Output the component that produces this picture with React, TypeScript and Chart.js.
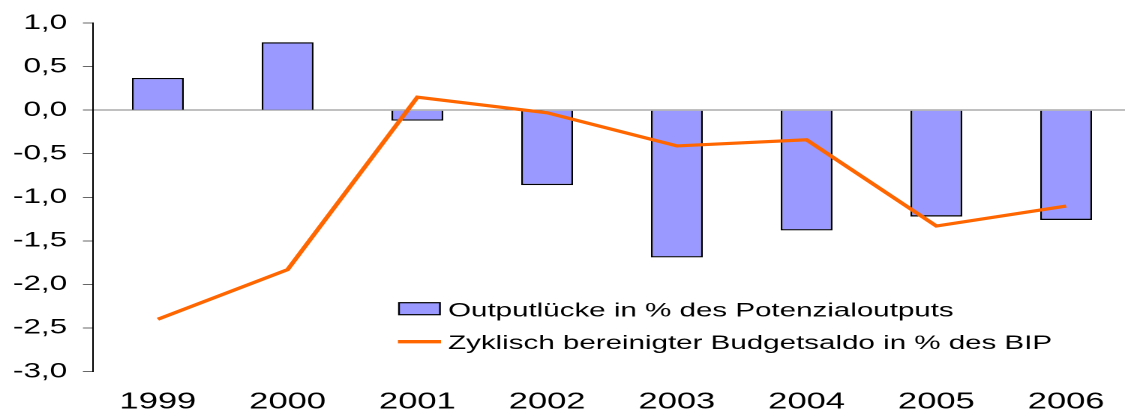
import React, { useEffect, useRef } from "react";
import { Chart, registerables } from "chart.js";

Chart.register(...registerables);

const categories = ["1999", "2000", "2001", "2002", "2003", "2004", "2005", "2006"];
const outputGap = [0.37, 0.78, -0.12, -0.86, -1.69, -1.38, -1.22, -1.26];
const budgetBalance = [-2.4, -1.83, 0.15, -0.03, -0.41, -0.34, -1.33, -1.1];
const barLabel = "Outputlücke in % des Potenzialoutputs";
const lineLabel = "Zyklisch bereinigter Budgetsaldo in % des BIP";
const yMin = -3;
const yMax = 1;
const yStep = 0.5;

const FONT = "'Liberation Sans', Arial, sans-serif";
const BAR_FILL = "#9999FF";
const LINE_COLOR = "#FF6600";

const legendPlugin = {
  id: "customLegend",
  afterDraw(chart: any) {
    const ctx = chart.ctx;
    ctx.save();
    // bar item
    ctx.fillStyle = BAR_FILL;
    ctx.strokeStyle = "#000";
    ctx.lineWidth = 1.2;
    ctx.fillRect(266, 302.7, 27.3, 12);
    ctx.strokeRect(266, 302.7, 27.3, 12);
    // line item
    ctx.strokeStyle = LINE_COLOR;
    ctx.lineWidth = 3.3;
    ctx.beginPath();
    ctx.moveTo(265.3, 341.7);
    ctx.lineTo(294, 341.7);
    ctx.stroke();
    ctx.fillStyle = "#000";
    ctx.font = `19.7px ${FONT}`;
    ctx.textBaseline = "alphabetic";
    ctx.textAlign = "left";
    ctx.fillText(chart.data.datasets[0].label, 298.7, 316.5);
    ctx.fillText(chart.data.datasets[1].label, 298.7, 349);
    ctx.restore();
  },
};

export default function App() {
  const canvasRef = useRef<HTMLCanvasElement | null>(null);

  useEffect(() => {
    const canvas = canvasRef.current;
    if (!canvas) return;
    Chart.defaults.font.family = FONT;
    const chart = new Chart(canvas, {
      type: "bar",
      data: {
        labels: categories,
        datasets: [
          {
            type: "bar",
            label: barLabel,
            data: outputGap,
            backgroundColor: BAR_FILL,
            borderColor: "#000",
            borderWidth: 1.3,
            barPercentage: 0.4,
            categoryPercentage: 1,
            order: 1,
          } as any,
          {
            type: "line",
            label: lineLabel,
            data: budgetBalance,
            borderColor: LINE_COLOR,
            backgroundColor: LINE_COLOR,
            borderWidth: 3.2,
            pointRadius: 0,
            tension: 0,
            fill: false,
            order: 0,
          } as any,
        ],
      },
      options: {
        animation: false,
        responsive: false,
        devicePixelRatio: 2,
        layout: { padding: { top: 20.5, left: 0, right: 0, bottom: 0 } },
        plugins: {
          legend: { display: false },
          tooltip: { enabled: false },
        },
        scales: {
          x: {
            offset: true,
            grid: { display: false, drawTicks: false },
            border: { display: false },
            ticks: {
              color: "#000",
              font: { size: 23, family: FONT },
              padding: 17,
              maxRotation: 0,
              autoSkip: false,
            },
            afterFit: (scale: any) => {
              scale.height = 42.5;
            },
          },
          y: {
            min: yMin,
            max: yMax,
            border: { display: true, color: "#000", width: 1 },
            grid: {
              drawOnChartArea: true,
              drawTicks: true,
              tickLength: 6.7,
              tickColor: "#666",
              lineWidth: 1,
              color: (ctx: any) =>
                ctx.tick && Math.abs(ctx.tick.value) < 1e-9 ? "#808080" : "rgba(0,0,0,0)",
            },
            ticks: {
              stepSize: yStep,
              color: "#000",
              padding: 10.5,
              font: { size: 21, family: FONT },
              callback: (v: any) => Number(v).toFixed(1).replace(".", ","),
            },
            afterFit: (scale: any) => {
              scale.width = 62;
            },
          },
        },
      },
      plugins: [legendPlugin],
    } as any);
    return () => chart.destroy();
  }, []);

  return (
    <div
      style={{
        position: "fixed",
        left: 0,
        top: 0,
        width: 1125,
        height: 414,
        overflow: "hidden",
        background: "#fff",
      }}
    >
      <canvas
        ref={canvasRef}
        width={754}
        height={414}
        style={{ width: "1131px", height: "414px", display: "block" }}
      />
    </div>
  );
}
